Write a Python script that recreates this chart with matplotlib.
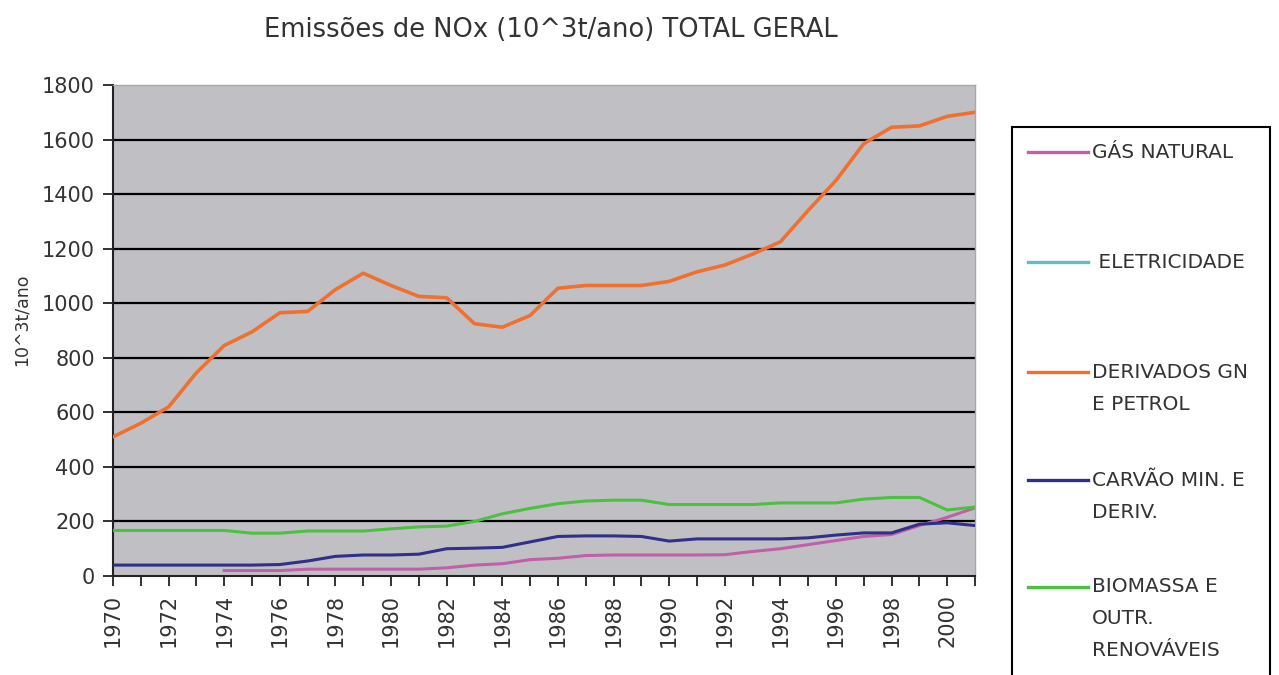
import numpy as np
import matplotlib
matplotlib.use("Agg")
import matplotlib.pyplot as plt
from matplotlib.lines import Line2D
from matplotlib.patches import Rectangle

plt.rcParams['font.family'] = ['DejaVu Sans']

# ______DATA______
anos = list(range(1970, 2002))

gas_natural = [np.nan, np.nan, np.nan, np.nan, 20, 20, 20, 25, 25, 25,
               25, 25, 30, 40, 45, 60, 65, 75, 77, 77,
               77, 77, 78, 90, 100, 115, 130, 145, 152, 185,
               215, 250]

eletricidade = [np.nan] * len(anos)  # not visible in the original

derivados = [510, 560, 620, 745, 845, 895, 965, 970, 1050, 1110,
             1065, 1025, 1020, 925, 912, 955, 1055, 1065, 1065, 1065,
             1080, 1115, 1140, 1180, 1225, 1340, 1450, 1585, 1645, 1650,
             1685, 1700]

carvao = [40, 40, 40, 40, 40, 40, 42, 55, 72, 77,
          77, 80, 100, 102, 105, 125, 145, 147, 147, 145,
          128, 136, 136, 136, 136, 140, 150, 158, 158, 190,
          195, 185]

biomassa = [167, 167, 167, 167, 167, 157, 157, 165, 165, 165,
            173, 180, 183, 200, 228, 248, 265, 275, 278, 278,
            262, 262, 262, 262, 268, 268, 268, 282, 288, 288,
            242, 253]

series = [
    (["GÁS NATURAL"], gas_natural, "#c060a8"),
    ([" ELETRICIDADE"], eletricidade, "#60c0c0"),
    (["DERIVADOS GN", "E PETROL"], derivados, "#f07030"),
    (["CARVÃO MIN. E", "DERIV."], carvao, "#303088"),
    (["BIOMASSA E", "OUTR.", "RENOVÁVEIS"], biomassa, "#4cc040"),
]

yticks = list(range(0, 2000, 200))

# ______FIGURE______
fig = plt.figure(figsize=(12.79, 6.75), dpi=100)
ax = fig.add_axes([113 / 1279, 1 - 576 / 675, (975 - 113) / 1279, (576 - 85) / 675])
ax.set_facecolor("#c0c0c4")

for v in yticks[1:-1]:
    ax.axhline(v, color="black", linewidth=1.6, zorder=1)

for label, values, color in series:
    lw = 2.6 if label[0].startswith("DERIVADOS") else 2.2
    ax.plot(anos, values, color=color, linewidth=lw, zorder=3)

ax.set_xlim(1970, 2001)
ax.set_ylim(0, 1800)
ax.set_yticks(yticks)
ax.set_xticks(anos)
ax.set_xticklabels([str(a) if a % 2 == 0 else "" for a in anos], rotation=90)
ax.tick_params(axis="both", direction="out", length=7, width=1.3, labelsize=15,
               labelcolor="#333333", color="#222222")
ax.tick_params(axis="x", pad=6)
ax.tick_params(axis="y", pad=6)

for side in ["left", "bottom"]:
    ax.spines[side].set_color("#222222")
    ax.spines[side].set_linewidth(1.5)
for side in ["top", "right"]:
    ax.spines[side].set_color("#a8a8a8")
    ax.spines[side].set_linewidth(1.0)

fig.text(551 / 1279, 1 - 30 / 675, "Emissões de NOx (10^3t/ano) TOTAL GERAL",
         ha="center", va="center", fontsize=18.5, color="#333333")
fig.text(22 / 1279, 1 - 320 / 675, "10^3t/ano", rotation=90,
         ha="center", va="center", fontsize=12.5, color="#333333")

# ______LEGEND (drawn by hand to follow the original layout)______
fig.add_artist(Rectangle((1012 / 1279, -0.05), (1270 - 1012) / 1279, 1 - 127 / 675 + 0.05,
                         transform=fig.transFigure, facecolor="white",
                         edgecolor="black", linewidth=1.5))
leg_y = [152, 262, 372, 480, 587]
for (lines, values, color), y in zip(series, leg_y):
    fy = 1 - y / 675
    fig.add_artist(Line2D([1028 / 1279, 1088 / 1279], [fy, fy],
                          transform=fig.transFigure, color=color, linewidth=2.4))
    for i, txt in enumerate(lines):
        fig.text(1092 / 1279, 1 - (y + 32 * i) / 675, txt, ha="left", va="center",
                 fontsize=14.5, color="#333333")

fig.savefig("out.png", dpi=100)
